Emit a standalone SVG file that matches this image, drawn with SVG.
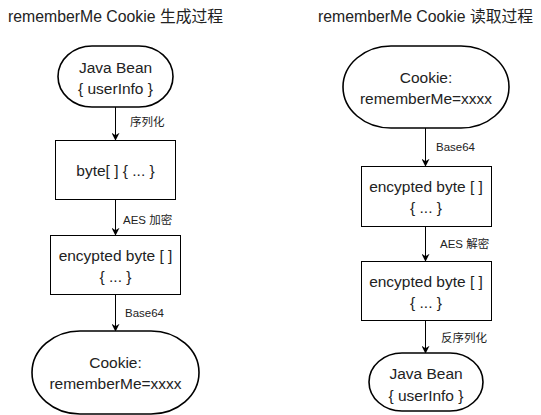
<svg xmlns="http://www.w3.org/2000/svg" width="541" height="415" viewBox="0 0 541 415">
<style>
.t{font-family:"Liberation Sans","Noto Sans CJK SC",Arial,sans-serif;fill:#222;}
.title{font-size:15.8px;}
.n{font-size:15.5px;text-anchor:middle;}
.l{font-size:11.5px;}
.box{fill:#fff;stroke:#000;stroke-width:1;}
.term{fill:#fff;stroke:#000;stroke-width:1.6;}
.c{stroke:#000;stroke-width:1;fill:none;}
</style>
<defs>
<marker id="ah" viewBox="0 0 10 10" refX="9" refY="5" markerWidth="8" markerHeight="8" markerUnits="userSpaceOnUse" orient="auto">
<path d="M0,0 L10,5 L0,10 L3,5 Z" fill="#000"/>
</marker>
</defs>
<rect width="541" height="415" fill="#fff"/>
<text class="t title" x="8" y="22">rememberMe Cookie 生成过程</text>
<text class="t title" x="318" y="22">rememberMe Cookie 读取过程</text>
<g id="connectors">
<line class="c" x1="115.5" y1="107" x2="115.5" y2="140" marker-end="url(#ah)"/>
<line class="c" x1="115.5" y1="200" x2="115.5" y2="235" marker-end="url(#ah)"/>
<line class="c" x1="115.5" y1="295" x2="115.5" y2="331" marker-end="url(#ah)"/>
<line class="c" x1="425.5" y1="128" x2="425.5" y2="166" marker-end="url(#ah)"/>
<line class="c" x1="425.5" y1="227" x2="425.5" y2="261" marker-end="url(#ah)"/>
<line class="c" x1="425.5" y1="321" x2="425.5" y2="353" marker-end="url(#ah)"/>
<text class="t l" x="130" y="126">序列化</text>
<text class="t l" x="123" y="224">AES 加密</text>
<text class="t l" x="125" y="317">Base64</text>
<text class="t l" x="436" y="151">Base64</text>
<text class="t l" x="440" y="248">AES 解密</text>
<text class="t l" x="441" y="342">反序列化</text>
</g>
<g id="n1">
<rect class="term" x="58" y="46" width="115" height="61" rx="34" ry="30.5"/>
<text class="t n" x="115.5" y="73">Java Bean</text>
<text class="t n" x="115.5" y="94">{ userInfo }</text>
</g>
<g id="n2">
<rect class="box" x="55.5" y="140.5" width="120" height="59"/>
<text class="t n" x="115.5" y="176">byte[ ] { ... }</text>
</g>
<g id="n3">
<rect class="box" x="50.5" y="235.5" width="130" height="59"/>
<text class="t n" x="115.5" y="261">encypted byte [ ]</text>
<text class="t n" x="115.5" y="282">{ ... }</text>
</g>
<g id="n4">
<rect class="term" x="32" y="331" width="167" height="83" rx="48" ry="41.5"/>
<text class="t n" x="115.5" y="368">Cookie:</text>
<text class="t n" x="115.5" y="389">rememberMe=xxxx</text>
</g>
<g id="n5">
<rect class="term" x="343" y="46" width="166" height="82" rx="48" ry="41"/>
<text class="t n" x="426" y="83">Cookie:</text>
<text class="t n" x="426" y="104">rememberMe=xxxx</text>
</g>
<g id="n6">
<rect class="box" x="361.5" y="166.5" width="130" height="60"/>
<text class="t n" x="426" y="192">encypted byte [ ]</text>
<text class="t n" x="426" y="213">{ ... }</text>
</g>
<g id="n7">
<rect class="box" x="361.5" y="261.5" width="130" height="59"/>
<text class="t n" x="426" y="287">encypted byte [ ]</text>
<text class="t n" x="426" y="308">{ ... }</text>
</g>
<g id="n8">
<rect class="term" x="369" y="353" width="114" height="58" rx="33" ry="29"/>
<text class="t n" x="426" y="379">Java Bean</text>
<text class="t n" x="426" y="401">{ userInfo }</text>
</g>
</svg>
